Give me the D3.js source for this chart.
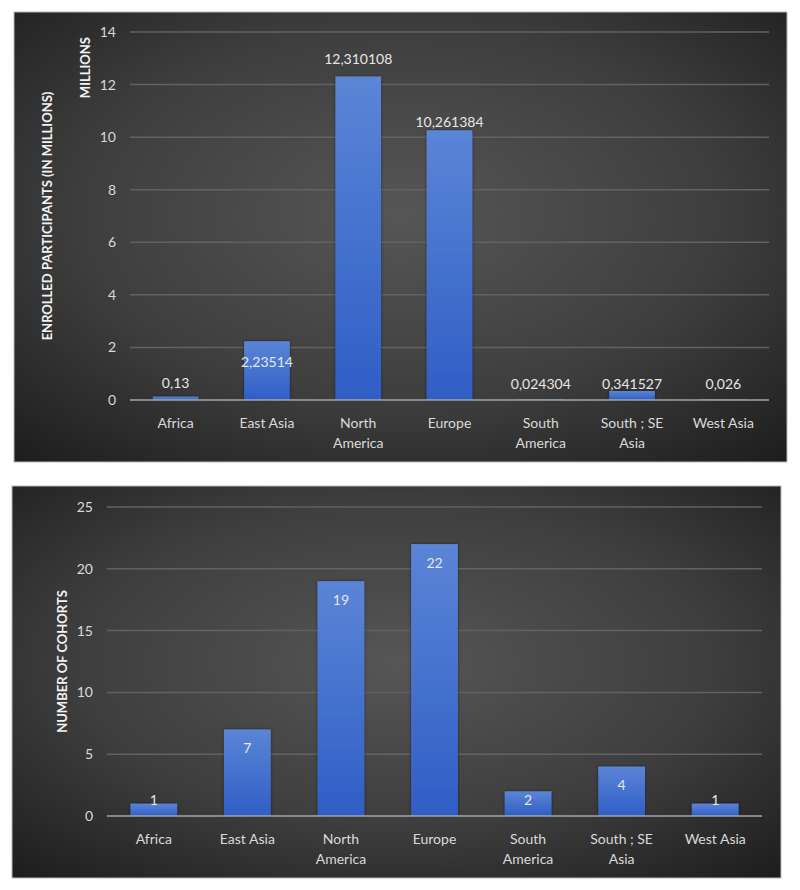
<!DOCTYPE html>
<html>
<head>
<meta charset="utf-8">
<script src="https://cdn.jsdelivr.net/npm/d3@7"></script>
<style>
  body { margin: 0; background: #fff; }
  svg { display: block; }
  text { font-family: Lato, "Open Sans", sans-serif; }
</style>
</head>
<body>
<div id="chart"></div>
<script>
// regions shared by both charts
const regions = ['Africa', 'East Asia', 'North America', 'Europe', 'South America', 'South ; SE Asia', 'West Asia'];
const regionLines = [['Africa'], ['East Asia'], ['North', 'America'], ['Europe'], ['South', 'America'], ['South ; SE', 'Asia'], ['West Asia']];

// top chart: enrolled participants (millions)
const participants = [0.13, 2.23514, 12.310108, 10.261384, 0.024304, 0.341527, 0.026];
const participantLabels = ['0,13', '2,23514', '12,310108', '10,261384', '0,024304', '0,341527', '0,026'];
const participantTicks = [0, 2, 4, 6, 8, 10, 12, 14];
// label shift from bar top (labels were placed by hand in the original)
const participantLabelDy = [-13, 21, -17, -8, -15, -7, -15];

// bottom chart: number of cohorts
const cohorts = [1, 7, 19, 22, 2, 4, 1];
const cohortTicks = [0, 5, 10, 15, 20, 25];

const W = 800, H = 890;
const svg = d3.select('#chart').append('svg')
    .attr('width', W)
    .attr('height', H);

const defs = svg.append('defs');
const bg = defs.append('radialGradient')
    .attr('id', 'bg')
    .attr('cx', '50%').attr('cy', '45%').attr('r', '75%');
bg.append('stop').attr('offset', '0%').attr('stop-color', '#565656');
bg.append('stop').attr('offset', '55%').attr('stop-color', '#3e3e3e');
bg.append('stop').attr('offset', '100%').attr('stop-color', '#1c1c1c');

const barGrad = defs.append('linearGradient')
    .attr('id', 'bar')
    .attr('x1', 0).attr('y1', 0).attr('x2', 0).attr('y2', 1);
barGrad.append('stop').attr('offset', '0%').attr('stop-color', '#5b85d6');
barGrad.append('stop').attr('offset', '100%').attr('stop-color', '#2f5ec6');

const shadow = defs.append('filter').attr('id', 'shadow')
    .attr('x', '-20%').attr('y', '-20%').attr('width', '140%').attr('height', '140%');
shadow.append('feDropShadow')
    .attr('dx', 0).attr('dy', 0).attr('stdDeviation', 1.5)
    .attr('flood-color', '#000').attr('flood-opacity', 0.5);

function drawPanel(opts) {
    const g = svg.append('g');

    g.append('rect')
        .attr('x', opts.box[0]).attr('y', opts.box[1])
        .attr('width', opts.box[2]).attr('height', opts.box[3])
        .attr('fill', 'url(#bg)')
        .attr('stroke', '#b8b8b8')
        .attr('stroke-width', 1);

    const x = d3.scaleBand()
        .domain(regions)
        .range([opts.plot[0], opts.plot[1]])
        .paddingInner(0.5)
        .paddingOuter(0.25);

    const y = d3.scaleLinear()
        .domain([0, opts.max])
        .range([opts.plot[3], opts.plot[2]]);

    // gridlines
    g.append('g')
        .selectAll('line')
        .data(opts.ticks.filter(t => t > 0))
        .join('line')
        .attr('x1', opts.plot[0]).attr('x2', opts.plot[1])
        .attr('y1', d => y(d)).attr('y2', d => y(d))
        .attr('stroke', '#626262')
        .attr('stroke-width', 1.5);

    // y tick labels
    const yAxis = g.append('g')
        .attr('transform', `translate(${opts.plot[0] - 14},0)`)
        .call(d3.axisLeft(y).tickValues(opts.ticks).tickSize(0).tickPadding(0));
    yAxis.select('.domain').remove();
    yAxis.selectAll('text')
        .attr('fill', '#d9d9d9')
        .attr('font-size', 14)
        .style('font-family', 'Lato, sans-serif');

    // bars
    g.append('g')
        .selectAll('rect')
        .data(opts.values)
        .join('rect')
        .attr('x', (d, i) => x(regions[i]))
        .attr('y', d => y(d))
        .attr('width', x.bandwidth())
        .attr('height', d => y(0) - y(d))
        .attr('fill', 'url(#bar)')
        .attr('filter', 'url(#shadow)');

    // baseline
    g.append('line')
        .attr('x1', opts.plot[0]).attr('x2', opts.plot[1])
        .attr('y1', y(0)).attr('y2', y(0))
        .attr('stroke', '#a6a6a6')
        .attr('stroke-width', 1.5);

    // value labels
    g.append('g')
        .selectAll('text')
        .data(opts.values)
        .join('text')
        .attr('x', (d, i) => x(regions[i]) + x.bandwidth() / 2)
        .attr('y', (d, i) => opts.labelY(d, i, y))
        .attr('dy', '0.35em')
        .attr('text-anchor', 'middle')
        .attr('font-size', 14)
        .attr('fill', '#e6e6e6')
        .text((d, i) => opts.labels[i]);

    // category labels
    const cat = g.append('g')
        .selectAll('text')
        .data(regionLines)
        .join('text')
        .attr('x', (d, i) => x(regions[i]) + x.bandwidth() / 2)
        .attr('y', y(0) + 23)
        .attr('dy', '0.35em')
        .attr('text-anchor', 'middle')
        .attr('font-size', 14)
        .attr('fill', '#d9d9d9');
    cat.selectAll('tspan')
        .data(d => d)
        .join('tspan')
        .attr('x', function () { return this.parentNode.getAttribute('x'); })
        .attr('dy', (d, i) => i === 0 ? '0.35em' : 20)
        .text(d => d);

    // axis title
    const midY = (opts.plot[2] + opts.plot[3]) / 2;
    g.append('text')
        .attr('transform', `translate(${opts.titleX},${midY}) rotate(-90)`)
        .attr('text-anchor', 'middle')
        .attr('dy', '0.35em')
        .attr('font-size', 13)
        .attr('font-weight', 'bold')
        .attr('fill', '#f2f2f2')
        .text(opts.title);

    if (opts.units) {
        g.append('text')
            .attr('transform', `translate(${opts.units[1]},${opts.units[2]}) rotate(-90)`)
            .attr('text-anchor', 'end')
            .attr('dy', '0.35em')
            .attr('font-size', 13)
            .attr('font-weight', 'bold')
            .attr('fill', '#f2f2f2')
            .text(opts.units[0]);
    }
}

drawPanel({
    box: [14, 12, 773, 450],
    plot: [130, 769, 32, 400],
    max: 14,
    ticks: participantTicks,
    values: participants,
    labels: participantLabels,
    labelY: (d, i, y) => y(d) + participantLabelDy[i],
    title: 'ENROLLED PARTICIPANTS (IN MILLIONS)',
    titleX: 47,
    units: ['MILLIONS', 85, 37]
});

drawPanel({
    box: [12, 486, 769, 392],
    plot: [107, 762, 507, 816],
    max: 25,
    ticks: cohortTicks,
    values: cohorts,
    labels: cohorts.map(String),
    labelY: (d, i, y) => Math.min(y(d) + 19, y(0) - 16),
    title: 'NUMBER OF COHORTS',
    titleX: 62
});
</script>
</body>
</html>
